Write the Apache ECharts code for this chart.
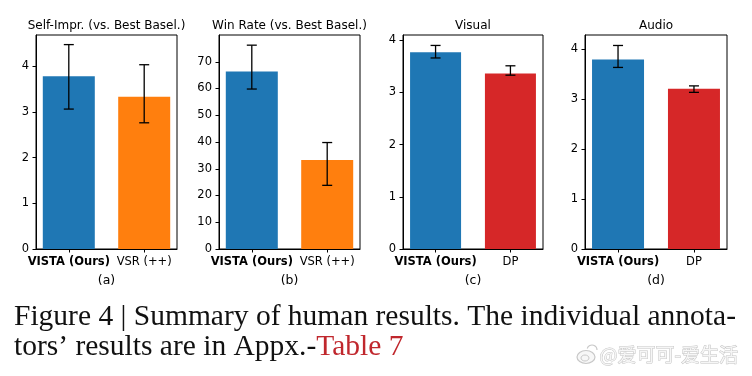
<!DOCTYPE html>
<html>
<head>
<meta charset="utf-8">
<script src="https://cdn.jsdelivr.net/npm/echarts@6/dist/echarts.min.js"></script>
<style>
  html, body { margin: 0; padding: 0; background: #fff; }
  #main { width: 752px; height: 376px; }
</style>
</head>
<body>
<div id="main"></div>
<script>
// panel titles and labels
const panelTitles = ['Self-Impr. (vs. Best Basel.)', 'Win Rate (vs. Best Basel.)', 'Visual', 'Audio'];
const panelTags = ['(a)', '(b)', '(c)', '(d)'];
const catsA = ['VISTA (Ours)', 'VSR (++)'];
const catsB = ['VISTA (Ours)', 'VSR (++)'];
const catsC = ['VISTA (Ours)', 'DP'];
const catsD = ['VISTA (Ours)', 'DP'];

// bar heights
const meanA = [3.78, 3.33];
const meanB = [66.4, 33.3];
const meanC = [3.77, 3.36];
const meanD = [3.80, 3.21];

// error bar ends (low / high)
const lowA = [3.06, 2.76];
const highA = [4.47, 4.03];
const lowB = [59.8, 23.8];
const highB = [76.2, 39.8];
const lowC = [3.66, 3.33];
const highC = [3.90, 3.51];
const lowD = [3.64, 3.14];
const highD = [4.08, 3.27];

// axis ranges
const yMax = [4.68, 80, 4.1, 4.29];
const yStep = [1, 10, 1, 1];
const xMin = -0.435, xMax = 1.435; // matplotlib style margins around 2 bars

const blue = '#1f77b4', orange = '#ff7f0e', red = '#d62728';
const barColors = [[blue, orange], [blue, orange], [blue, red], [blue, red]];

const cats = [catsA, catsB, catsC, catsD];
const means = [meanA, meanB, meanC, meanD];
const lows = [lowA, lowB, lowC, lowD];
const highs = [highA, highB, highC, highD];

const grids = [
  { left: 36, top: 35, width: 141, height: 214 },
  { left: 219, top: 35, width: 141, height: 214 },
  { left: 403, top: 35, width: 140, height: 214 },
  { left: 585, top: 35, width: 142, height: 214 },
];

const font = 'DejaVu Sans';
const capFont = '29.5px "Liberation Serif"';

let option = {
  animation: false,
  backgroundColor: '#fff',
  title: panelTitles.map((t, i) => ({
    text: t,
    left: grids[i].left + grids[i].width / 2,
    top: 20,
    padding: 0,
    textAlign: 'center',
    textStyle: { fontFamily: font, fontSize: 12, fontWeight: 'normal', color: '#000' },
  })),
  grid: grids.map(g => Object.assign({ show: true, borderColor: '#000', borderWidth: 1 }, g)),
  xAxis: cats.map((c, i) => ({
    type: 'value',
    gridIndex: i,
    min: xMin,
    max: xMax,
    splitLine: { show: false },
    name: panelTags[i],
    nameLocation: 'middle',
    nameGap: 25,
    nameTextStyle: { fontFamily: font, fontSize: 12.5, color: '#000', verticalAlign: 'top' },
    axisLine: { onZero: false, lineStyle: { color: '#000', width: 1 } },
    axisTick: { customValues: [0, 1], length: 3.5, lineStyle: { color: '#000' } },
    axisLabel: {
      customValues: [0, 1],
      margin: 7,
      color: '#000',
      fontFamily: font,
      fontSize: 11.5,
      formatter: v => (v === 0 ? '{b|' + c[0] + '}' : c[Math.round(v)]),
      rich: { b: { fontWeight: 'bold', fontFamily: font, fontSize: 11.5, color: '#000' } },
    },
  })),
  yAxis: yMax.map((m, i) => ({
    type: 'value',
    gridIndex: i,
    min: 0,
    max: m,
    interval: yStep[i],
    splitLine: { show: false },
    axisLine: { show: true, onZero: false, lineStyle: { color: '#000', width: 1 } },
    axisTick: { show: true, length: 3.5, lineStyle: { color: '#000' } },
    axisLabel: { color: '#000', fontFamily: font, fontSize: 11.5, margin: 7, showMaxLabel: false },
  })),
  series: [],
  graphic: [
    {
      type: 'text',
      left: 14,
      top: 302,
      style: {
        text: 'Figure 4 | Summary of human results. The individual annota-',
        font: capFont,
        fill: '#111',
      },
    },
    {
      type: 'text',
      left: 14,
      top: 332,
      style: {
        text: '{n|tors\u2019 results are in Appx.-}{r|Table 7}',
        rich: {
          n: { font: capFont, fill: '#111' },
          r: { font: capFont, fill: '#c0272d' },
        },
      },
    },
    // weibo watermark
    {
      type: 'ellipse',
      shape: { cx: 586, cy: 357, rx: 9, ry: 6.5 },
      style: { fill: '#f7f7f7', stroke: '#c8c8c8', lineWidth: 1.2 },
    },
    {
      type: 'ellipse',
      shape: { cx: 585, cy: 358, rx: 4, ry: 3 },
      style: { fill: 'none', stroke: '#c8c8c8', lineWidth: 1 },
    },
    {
      type: 'arc',
      shape: { cx: 592, cy: 350, r: 5, startAngle: -Math.PI * 0.9, endAngle: 0 },
      style: { fill: 'none', stroke: '#c8c8c8', lineWidth: 1.2 },
    },
    {
      type: 'text',
      left: 599,
      top: 345,
      style: {
        text: '@爱可可-爱生活',
        font: '19px "Noto Sans CJK SC"',
        fill: '#f6f6f6',
        stroke: '#c4c4c4',
        lineWidth: 1,
      },
    },
  ],
};

cats.forEach((c, i) => {
  option.series.push({
    type: 'bar',
    xAxisIndex: i,
    yAxisIndex: i,
    barWidth: Math.round(0.7 / (xMax - xMin) * grids[i].width) - 1,
    data: means[i].map((v, k) => ({ value: [k, v], itemStyle: { color: barColors[i][k] } })),
  });
  option.series.push({
    type: 'custom',
    xAxisIndex: i,
    yAxisIndex: i,
    z: 5,
    data: c.map((name, k) => [k, lows[i][k], highs[i][k]]),
    renderItem: function (params, api) {
      const lo = api.coord([api.value(0), api.value(1)]);
      const hi = api.coord([api.value(0), api.value(2)]);
      const half = 5;
      const st = { stroke: '#000', lineWidth: 1.3 };
      return {
        type: 'group',
        children: [
          { type: 'line', shape: { x1: lo[0], y1: lo[1], x2: hi[0], y2: hi[1] }, style: st },
          { type: 'line', shape: { x1: hi[0] - half, y1: hi[1], x2: hi[0] + half, y2: hi[1] }, style: st },
          { type: 'line', shape: { x1: lo[0] - half, y1: lo[1], x2: lo[0] + half, y2: lo[1] }, style: st },
        ],
      };
    },
  });
});

let chartDom = document.getElementById('main');
let myChart = echarts.init(chartDom);
myChart.setOption(option);
</script>
</body>
</html>
